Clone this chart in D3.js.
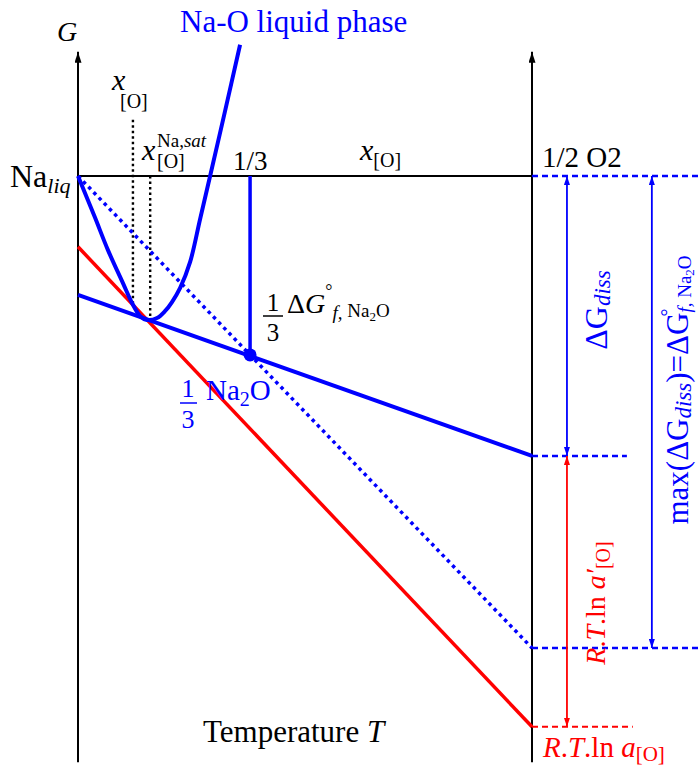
<!DOCTYPE html>
<html>
<head>
<meta charset="utf-8">
<script src="https://cdn.jsdelivr.net/npm/d3@7/dist/d3.min.js"></script>
<style>
  html, body { margin: 0; padding: 0; background: #fff; }
  svg { display: block; }
  text { font-family: "Liberation Serif", "DejaVu Serif", serif; }
</style>
</head>
<body>
<svg id="chart" width="698" height="769"></svg>
<script>
// Schematic G–x diagram for the Na–O system (arbitrary units).
// Composition axis: 0 = pure Na, 1 = 1/2 O2. Energy axis: 0 = reference level.

// composition positions of the marked states
const compNa = 0;
const compNa2O = 0.379;
const compO2 = 1;
const compXO = 0.121;
const compXSat = 0.159;

// Gibbs energies (arbitrary units)
const gNa = 0;
const gNa2O = -0.379;
const gO2 = 0;
const gDissMax = -1;          // G of the dotted Na–O2 line at the O2 end
const gTangentStart = -0.252;  // Na2O tangent line at x = 0
const gTangentEnd = -0.593;    // Na2O tangent line at x = 1
const gActStart = -0.150;      // R.T.ln a line at x = 0
const gActEnd = -1.167;        // R.T.ln a line at x = 1
const gXOTop = 0.119;
const gXOCurve = -0.269;
const gSatCurve = -0.30;

// liquid phase free-energy curve
const liquidX = [0, 0.037, 0.066, 0.099, 0.119, 0.137, 0.152, 0.174, 0.192, 0.207, 0.225, 0.247, 0.269, 0.291, 0.324, 0.357];
const liquidG = [0, -0.087, -0.157, -0.227, -0.269, -0.297, -0.305, -0.301, -0.286, -0.267, -0.237, -0.182, -0.091, 0, 0.138, 0.278];

// axis extents
const gAxisTop = 0.263;
const gAxisBottom = -1.242;

// labels
const compLabels = ["1/3", "1/2 O2"];

const svg = d3.select("#chart");
const x = d3.scaleLinear().domain([0, 1]).range([78, 532]);
const y = d3.scaleLinear().domain([0, -1]).range([176, 648]);

const BLUE = "#0000ff", RED = "#ff0000", BLACK = "#000";

const defs = svg.append("defs");
function marker(id, color, w, l) {
  defs.append("marker").attr("id", id)
    .attr("viewBox", `0 ${-w} ${l} ${2 * w}`)
    .attr("refX", l).attr("refY", 0)
    .attr("markerUnits", "userSpaceOnUse")
    .attr("markerWidth", l).attr("markerHeight", 2 * w)
    .attr("orient", "auto-start-reverse")
    .append("path").attr("d", `M0,${-w}L${l},0L0,${w}Z`).attr("fill", color);
}
marker("axArrow", BLACK, 3.5, 11);
marker("bArrow", BLUE, 3, 9);
marker("rArrow", RED, 3, 9);

const line = d3.line().x(d => x(d[0])).y(d => y(d[1]));
function seg(pts, stroke, width, dash, extra) {
  const p = svg.append("path").attr("d", line(pts)).attr("fill", "none")
    .attr("stroke", stroke).attr("stroke-width", width);
  if (dash) p.attr("stroke-dasharray", dash);
  if (extra) extra(p);
  return p;
}

// vertical G axes at both ends of the composition range
seg([[compNa, gAxisBottom], [compNa, gAxisTop]], BLACK, 2, null, p => p.attr("marker-end", "url(#axArrow)"));
seg([[compO2, gAxisBottom], [compO2, gAxisTop]], BLACK, 2, null, p => p.attr("marker-end", "url(#axArrow)"));

// composition axis at the reference level
seg([[compNa, gNa], [compO2, gO2]], BLACK, 2);

// construction dotted lines for x[O] and x[O]^Na,sat
seg([[compXO, gXOTop], [compXO, gXOCurve]], BLACK, 2.4, "2.5 3");
seg([[compXSat, gO2], [compXSat, gSatCurve]], BLACK, 2.4, "2.5 3");

// R.T.ln a line
seg([[compNa, gActStart], [compO2, gActEnd]], RED, 3.5);

// dotted Na – O2 line
seg([[compNa, gNa], [compO2, gDissMax]], BLUE, 3.5, "3.5 4");

// Na2O tangent line
seg([[compNa, gTangentStart], [compO2, gTangentEnd]], BLUE, 4);

// 1/3 ΔG°f drop at the Na2O composition
seg([[compNa2O, gO2], [compNa2O, gNa2O]], BLUE, 3.5);

// liquid phase curve
const liquidPts = liquidX.map((v, i) => [v, liquidG[i]]);
svg.append("path")
  .attr("d", d3.line().x(d => x(d[0])).y(d => y(d[1])).curve(d3.curveCatmullRom.alpha(0.5))(liquidPts))
  .attr("fill", "none").attr("stroke", BLUE).attr("stroke-width", 4);

// Na2O point
svg.append("circle").attr("cx", x(compNa2O)).attr("cy", y(gNa2O)).attr("r", 6.5).attr("fill", BLUE);

// reference levels extended to the right of the O2 axis
seg([[compO2, gO2], [1.366, gO2]], BLUE, 2.5, "6 4");
seg([[compO2, gTangentEnd], [1.209, gTangentEnd]], BLUE, 2.5, "6 4");
seg([[compO2, gDissMax], [1.366, gDissMax]], BLUE, 2.5, "6 4");
seg([[compO2, gActEnd], [1.222, gActEnd]], RED, 2, "6 4");

// measurement arrows
const arrowX1 = 1.077, arrowX2 = 1.264;
seg([[arrowX1, gTangentEnd], [arrowX1, gO2]], BLUE, 1.8, null,
    p => p.attr("marker-start", "url(#bArrow)").attr("marker-end", "url(#bArrow)"));
seg([[arrowX2, gDissMax], [arrowX2, gO2]], BLUE, 1.8, null,
    p => p.attr("marker-start", "url(#bArrow)").attr("marker-end", "url(#bArrow)"));
seg([[arrowX1, gActEnd], [arrowX1, gTangentEnd]], RED, 1.8, null,
    p => p.attr("marker-start", "url(#rArrow)").attr("marker-end", "url(#rArrow)"));

// rich text helper: parts = [{t, i, size, off, dx}] where off is the baseline shift
function rich(px, py, parts, opt) {
  const t = svg.append("text")
    .attr("fill", opt.fill || BLACK)
    .attr("font-size", opt.size)
    .attr("text-anchor", opt.anchor || "start");
  if (opt.rotate) {
    t.attr("transform", `translate(${px},${py}) rotate(-90)`).attr("x", 0).attr("y", 0);
  } else {
    t.attr("x", px).attr("y", py);
  }
  let cur = 0;
  parts.forEach(p => {
    const off = p.off || 0;
    const ts = t.append("tspan").attr("dy", off - cur).text(p.t);
    if (p.size) ts.attr("font-size", p.size);
    if (p.i) ts.attr("font-style", "italic");
    if (p.dx) ts.attr("dx", p.dx);
    cur = off;
  });
  return t;
}
function plain(px, py, s, size, opt = {}) {
  const t = svg.append("text").attr("x", px).attr("y", py).attr("font-size", size)
    .attr("fill", opt.fill || BLACK).attr("text-anchor", opt.anchor || "start").text(s);
  if (opt.italic) t.attr("font-style", "italic");
  return t;
}

// axis titles
plain(57, 41, "G", 28, { italic: true });
plain(180, 32, "Na-O liquid phase", 31, { fill: BLUE });
plain(203, 742, "Temperature ", 31).append("tspan").attr("font-style", "italic").text("T");

// composition labels
rich(10, 187, [{ t: "Na" }, { t: "liq", i: true, size: 22, off: 6 }], { size: 32 });
plain(x(compNa2O) - 17, 170, compLabels[0], 27);
plain(x(compO2) + 10, 167, compLabels[1], 29);
rich(360, 160, [{ t: "x", i: true }, { t: "[O]", size: 20, off: 7 }], { size: 30 });
rich(112, 90, [{ t: "x", i: true }], { size: 30 });
plain(120, 108, "[O]", 20);
rich(142, 160, [{ t: "x", i: true }], { size: 30 });
rich(157, 147, [{ t: "Na," }, { t: "sat", i: true }], { size: 19 });
plain(157, 168, "[O]", 20);

// 1/3 ΔG°f,Na2O label
plain(273, 311, "1", 25, { anchor: "middle" });
svg.append("line").attr("x1", 263).attr("x2", 283).attr("y1", 316).attr("y2", 316)
  .attr("stroke", BLACK).attr("stroke-width", 1.5);
plain(273, 341, "3", 25, { anchor: "middle" });
rich(287, 313, [{ t: "Δ" }, { t: "G", i: true }, { t: "°", size: 18, off: -16 },
  { t: "f,", i: true, size: 19, off: 6 }, { t: " Na", size: 19, off: 4 },
  { t: "2", size: 13, off: 8 }, { t: "O", size: 19, off: 4 }], { size: 28 });

// 1/3 Na2O label
plain(188, 397, "1", 26, { anchor: "middle", fill: BLUE });
svg.append("line").attr("x1", 180).attr("x2", 197).attr("y1", 403).attr("y2", 403)
  .attr("stroke", BLUE).attr("stroke-width", 1.5);
plain(188, 428, "3", 26, { anchor: "middle", fill: BLUE });
rich(206, 400, [{ t: "Na" }, { t: "2", size: 20, off: 6 }, { t: "O" }], { size: 29, fill: BLUE });

// right side labels
rich(607, 310, [{ t: "Δ" }, { t: "G" }, { t: "diss", i: true, size: 23, off: 3 }],
  { size: 32, fill: BLUE, anchor: "middle", rotate: true });
rich(688, 390, [{ t: "max(Δ" }, { t: "G" }, { t: "diss", i: true, size: 23, off: 3 }, { t: ")=Δ", off: 0 },
  { t: "G" }, { t: "°", size: 20, off: -13, dx: -4 }, { t: "f,", i: true, size: 19, off: 3, dx: -4 },
  { t: " Na", size: 19, off: 3 }, { t: "2", size: 13, off: 6 }, { t: "O", size: 19, off: 3 }],
  { size: 31, fill: BLUE, anchor: "middle", rotate: true });
rich(605, 603, [{ t: "R", i: true }, { t: "." }, { t: "T", i: true }, { t: ".ln " }, { t: "a′", i: true },
  { t: "[O]", size: 20, off: 5 }], { size: 28, fill: RED, anchor: "middle", rotate: true });
rich(543, 757, [{ t: "R", i: true }, { t: "." }, { t: "T", i: true }, { t: ".ln " }, { t: "a", i: true },
  { t: "[O]", size: 21, off: 4 }], { size: 29, fill: RED });
</script>
</body>
</html>
